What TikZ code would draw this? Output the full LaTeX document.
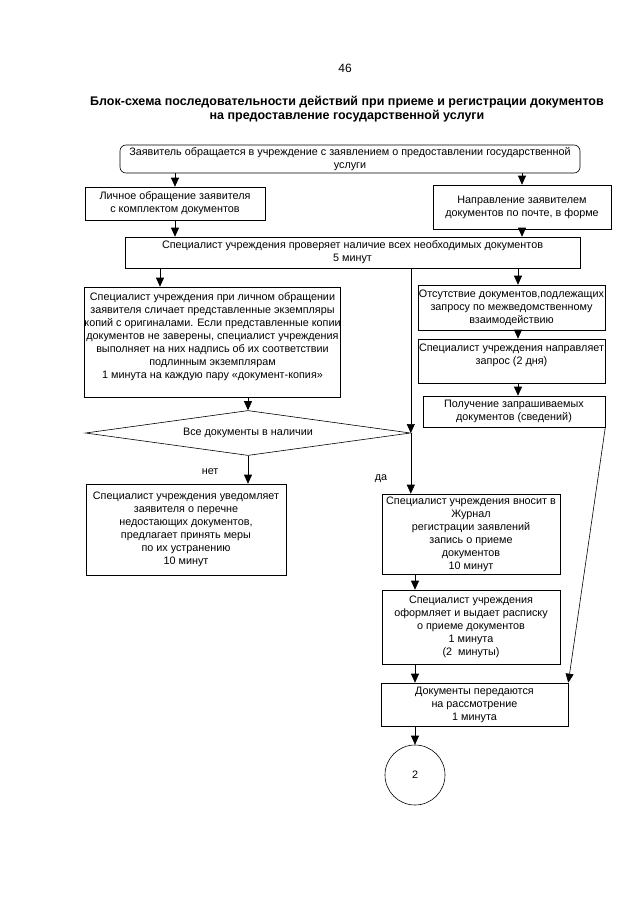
\documentclass[tikz,border=0pt]{standalone}
\usepackage{fontspec}
\setmainfont{Liberation Sans}
\usetikzlibrary{arrows.meta, positioning, shapes.geometric}
\tikzset{
    >={Triangle[width=8pt,length=9pt]}, % filled heads as in the scan
    txt/.style={font=\fontsize{10.8}{13}\selectfont}, % text of boxes and labels
    block/.style={draw, txt, align=center, inner sep=1pt}, % plain step box
    rblock/.style={block, rounded corners=6pt}, % the rounded first box
    decision/.style={draw, txt, diamond, aspect=7, inner sep=0pt}, % the check
}

\begin{document}
\begin{tikzpicture}[x=1pt, y=-1pt, line width=0.6pt]
            \useasboundingbox (0,0) rectangle (640,905);
            \node[font=\fontsize{12}{14}\selectfont] (pg) at (345,68) {46};
            \node[font=\bfseries\fontsize{12.5}{14}\selectfont, align=center] (ttl) at (347,109)
                {Блок-схема последовательности действий при приеме и регистрации документов\\на предоставление государственной услуги};

            \node[rblock, minimum width=460pt, minimum height=28pt] (appl) at (350,159)
                {Заявитель обращается в учреждение с заявлением о предоставлении государственной\\услуги};
            \node[block, minimum width=180pt, minimum height=33pt] (pers) at (175,203.5)
                {Личное обращение заявителя\\с комплектом документов};
            \node[block, minimum width=178pt, minimum height=44pt] (post) at (522,207)
                {Направление заявителем\\документов по почте, в форме};
            \node[block, minimum width=455pt, minimum height=31pt] (chk) at (352.5,252.5)
                {Специалист учреждения проверяет наличие всех необходимых документов\\5 минут};
            \node[block, inner sep=0pt, minimum width=255pt, minimum height=110pt] (cmp) at (212.5,342)
                {Специалист учреждения при личном обращении\\заявителя сличает представленные экземпляры\\копий с оригиналами. Если представленные копии\\документов не заверены, специалист учреждения\\выполняет на них надпись об их соответствии\\подлинным экземплярам\\1 минута на каждую пару «документ-копия»\\\mbox{}};
            \node[block, minimum width=187pt, minimum height=45pt] (abs) at (511.5,307.5)
                {Отсутствие документов,подлежащих\\запросу по межведомственному\\взаимодействию};
            \node[block, minimum width=187pt, minimum height=44pt] (req) at (511.5,361)
                {Специалист учреждения направляет\\запрос (2 дня)\\\mbox{}};
            \node[block, minimum width=182pt, minimum height=31pt] (rcv) at (514,411.5)
                {Получение запрашиваемых\\документов (сведений)};
            \node[decision, minimum width=325pt, minimum height=45pt] (dec) at (248,433)
                {Все документы в наличии};
            \node[block, minimum width=200pt, minimum height=91pt] (ntf) at (186,529.5)
                {Специалист учреждения уведомляет\\заявителя о перечне\\недостающих документов,\\предлагает принять меры\\по их устранению\\10 минут};
            \node[block, minimum width=178pt, minimum height=80pt] (jrn) at (471,534)
                {Специалист учреждения вносит в\\Журнал\\регистрации заявлений\\запись о приеме\\документов\\10 минут};
            \node[block, minimum width=178pt, minimum height=74pt] (rct) at (471,627)
                {Специалист учреждения\\оформляет и выдает расписку\\о приеме документов\\1 минута\\(2~~минуты)};
            \node[block, minimum width=187pt, minimum height=43pt] (trn) at (474.5,704.5)
                {Документы передаются\\на рассмотрение\\1 минута};
            \node[block, circle, minimum size=60pt] (c2) at (415,775) {2};

            % x of the arrows that do not start at a centre
            \coordinate (px) at (522,0);
            \coordinate (lx) at (160,0);
            \coordinate (rx) at (518,0);

            \path[->]
                (appl.south -| pers) edge (pers.north)
                (appl.south -| px) edge (post.north -| px)
                (pers.south) edge (chk.north -| pers)
                (post.south -| px) edge (chk.north -| px)
                (chk.south -| lx) edge (cmp.north -| lx)
                (chk.south -| dec.east) edge (dec.east)
                (chk.south -| rx) edge (abs.north -| rx)
                (abs.south -| rx) edge (req.north -| rx)
                (req.south -| rx) edge (rcv.north -| rx)
                (cmp.south -| dec) edge (dec.north)
                (dec.south) edge node[txt, pos=0.55, left=26pt] {нет} (ntf.north -| dec)
                (dec.east) edge node[txt, pos=0.75, left=20pt] {да} (jrn.north -| dec.east)
                (jrn.south -| c2) edge (rct.north -| c2)
                (rct.south -| c2) edge (trn.north -| c2)
                (rcv.south east) edge (trn.north east)
                (trn.south -| c2) edge (c2);
        \end{tikzpicture}
\end{document}
